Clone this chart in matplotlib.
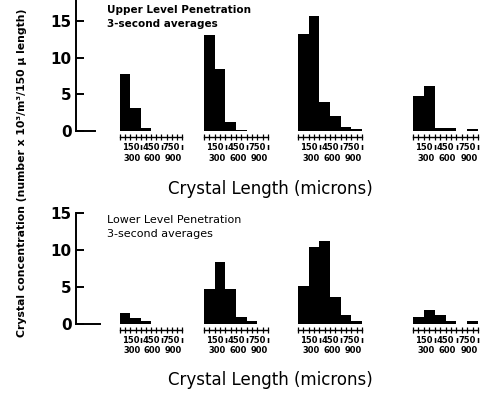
import matplotlib
matplotlib.use("Agg")
import matplotlib.pyplot as plt

# ---- data -------------------------------------------------------------
bin_left = [0, 150, 300, 450, 600, 750]          # microns
bin_width = 150
tick_positions = list(range(0, 901, 75))
label_top = [150, 450, 750]
label_bottom = [300, 600, 900]
y_ticks = [0, 5, 10, 15]

upper_hists = [
    [7.8, 3.2, 0.5, 0.0, 0.0, 0.0],
    [13.1, 8.4, 1.3, 0.2, 0.0, 0.0],
    [13.2, 15.7, 4.0, 2.1, 0.6, 0.3],
    [4.8, 6.2, 0.4, 0.4, 0.0, 0.35],
]
lower_hists = [
    [1.5, 0.85, 0.35, 0.0, 0.0, 0.0],
    [4.8, 8.4, 4.8, 0.9, 0.4, 0.0],
    [5.2, 10.5, 11.3, 3.7, 1.2, 0.4],
    [0.9, 1.9, 1.2, 0.4, 0.0, 0.35],
]

upper_title = "Upper Level Penetration\n3-second averages"
lower_title = "Lower Level Penetration\n3-second averages"
xlabel = "Crystal Length (microns)"
ylabel = "Crystal concentration (number x 10³/m³/150 µ length)"

# ---- layout helpers ---------------------------------------------------
W, H = 480, 393
fig = plt.figure(figsize=(W / 100, H / 100), dpi=100)


def rect(x0, ytop, x1, ybot):
    return [x0 / W, 1 - ybot / H, (x1 - x0) / W, (ybot - ytop) / H]


hist_x = [(120, 182), (204, 268), (298, 362), (413, 478)]


def panel(ytop, ybot, ymax, yaxis_right, hists):
    ax = fig.add_axes(rect(76, ytop, yaxis_right, ybot))
    ax.set_ylim(0, ymax)
    ax.set_xlim(0, 1)
    ax.spines[["top", "right"]].set_visible(False)
    ax.spines["left"].set_linewidth(1.4)
    ax.spines["bottom"].set_linewidth(1.4)
    ax.set_xticks([])
    ax.set_yticks(y_ticks)
    ax.tick_params(axis="y", direction="in", length=6, width=1.4,
                   labelsize=11, pad=3)
    for lab in ax.get_yticklabels():
        lab.set_fontweight("bold")
    ax.patch.set_alpha(0)

    for (x0, x1), vals in zip(hist_x, hists):
        hx = fig.add_axes(rect(x0, ytop, x1, ybot))
        hx.patch.set_alpha(0)
        hx.bar(bin_left, vals, width=bin_width, align="edge",
               color="black", linewidth=0)
        hx.set_xlim(0, 900)
        hx.set_ylim(0, ymax)
        hx.spines[["top", "right", "left"]].set_visible(False)
        hx.spines["bottom"].set_position(("outward", 4))
        hx.spines["bottom"].set_linewidth(1.0)
        hx.set_yticks([])
        hx.xaxis.remove_overlapping_locs = False
        # first row of labels (plus small leader marks toward 2nd row)
        hx.set_xticks(tick_positions)
        labels = []
        for t in tick_positions:
            if t in label_top:
                labels.append(str(t))
            elif t in label_bottom:
                labels.append("ı")
            else:
                labels.append("")
        hx.set_xticklabels(labels, fontsize=6, fontweight="bold")
        hx.tick_params(axis="x", which="major", direction="inout",
                       length=4, width=0.9, pad=2.5)
        # second row of labels, right-aligned on their ticks
        hx.set_xticks(label_bottom, minor=True)
        hx.set_xticklabels([str(t) for t in label_bottom], minor=True,
                           fontsize=6, fontweight="bold", ha="right")
        hx.tick_params(axis="x", which="minor", length=0, pad=12)


panel(0, 131.3, 131.3 / 7.37, 95, upper_hists)
panel(213.3, 324, 15, 100, lower_hists)

fig.text(107 / W, 1 - 5 / H, upper_title, ha="left", va="top",
         fontsize=7.5, fontweight="bold", linespacing=1.45)
fig.text(107 / W, 1 - 215 / H, lower_title, ha="left", va="top",
         fontsize=8, linespacing=1.45)

fig.text(270 / W, 1 - 189 / H, xlabel, ha="center", va="center",
         fontsize=12)
fig.text(270 / W, 1 - 380 / H, xlabel, ha="center", va="center",
         fontsize=12)

fig.text(22 / W, 1 - 337 / H, ylabel, rotation=90, ha="center",
         va="bottom", fontsize=7.8, fontweight="bold")

fig.savefig("out.png", dpi=100)
